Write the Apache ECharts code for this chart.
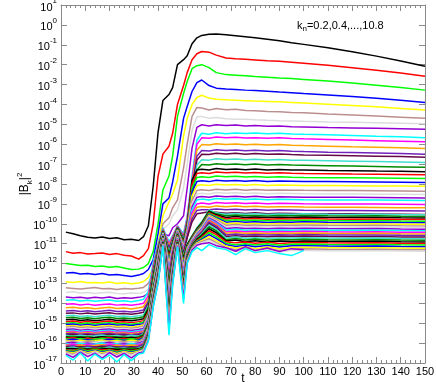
<!DOCTYPE html>
<html><head><meta charset="utf-8">
<script src="https://cdn.jsdelivr.net/npm/echarts@6/dist/echarts.min.js"></script>
<style>html,body{margin:0;padding:0;background:#fff}#c{width:436px;height:382px}</style>
</head><body><div id="c"></div>
<script>
// time samples
const t = [2,5,8,11,14,17,20,23,26,29,32, 34,36,38,40,42,44.5,46,48,50.5,52,54,56,58,61,64, 68,72,76,80,85,90,95,100,110,120,130,140,150];
// log10 |B_k|^2 for k = 0.2, 0.4, ..., 10.8
const k0_2 = [-10.42,-10.5,-10.6,-10.68,-10.72,-10.66,-10.74,-10.7,-10.8,-10.78,-10.84, -10.65,-10.1,-8.1,-5.4,-3.8,-3.5,-3.15,-2.0,-1.75,-1.55,-0.95,-0.65,-0.53,-0.47,-0.46, -0.5,-0.55,-0.6,-0.65,-0.72,-0.8,-0.9,-0.98,-1.15,-1.35,-1.57,-1.82,-2.08];
const k0_4 = [-11.4,-11.48,-11.45,-11.52,-11.5,-11.47,-11.55,-11.5,-11.58,-11.62,-11.78, -11.6,-11.25,-10.0,-7.6,-6.5,-6.1,-5.45,-4.0,-3.05,-2.4,-1.75,-1.45,-1.34,-1.37,-1.52, -1.66,-1.7,-1.73,-1.76,-1.8,-1.83,-1.88,-1.93,-2.03,-2.15,-2.28,-2.42,-2.58];
const k0_6 = [-12.0,-12.05,-12.1,-12.08,-12.15,-12.12,-12.18,-12.15,-12.22,-12.3,-12.28, -12.2,-12.0,-11.4,-10.0,-8.3,-7.6,-6.6,-4.6,-3.45,-2.85,-2.2,-2.05,-2.0,-2.15,-2.4, -2.5,-2.53,-2.56,-2.6,-2.63,-2.67,-2.7,-2.74,-2.82,-2.92,-3.03,-3.15,-3.28];
const k0_8 = [-12.48,-12.45,-12.52,-12.5,-12.55,-12.5,-12.58,-12.55,-12.6,-12.65,-12.58, -12.5,-12.3,-11.8,-10.5,-9.0,-8.7,-7.9,-6.6,-4.7,-4.1,-3.35,-2.9,-2.77,-3.05,-3.18, -3.22,-3.25,-3.28,-3.3,-3.34,-3.38,-3.41,-3.45,-3.52,-3.6,-3.69,-3.79,-3.9];
const k1_0 = [-12.92,-12.95,-12.9,-12.97,-12.95,-12.98,-12.93,-13.0,-12.97,-13.02,-12.98, -12.9,-12.7,-12.2,-11.0,-9.6,-8.9,-8.5,-7.8,-5.6,-4.7,-4.0,-3.65,-3.54,-3.68,-3.74, -3.77,-3.79,-3.81,-3.83,-3.85,-3.87,-3.9,-3.93,-3.99,-4.05,-4.12,-4.2,-4.28];
const k1_2 = [-13.22,-13.25,-13.28,-13.24,-13.2,-13.27,-13.25,-13.3,-13.26,-13.28,-13.24, -13.2,-13.0,-12.5,-11.4,-10.0,-9.7,-9.2,-8.8,-7.2,-6.0,-4.6,-4.15,-4.18,-4.28,-4.2, -4.27,-4.24,-4.3,-4.32,-4.35,-4.37,-4.4,-4.42,-4.48,-4.53,-4.58,-4.64,-4.7];
const k1_4 = [-13.45,-13.42,-13.48,-13.45,-13.5,-13.47,-13.44,-13.5,-13.52,-13.48,-13.5, -13.45,-13.3,-12.8,-11.7,-10.3,-10.0,-9.6,-9.3,-8.2,-7.0,-5.3,-4.62,-4.6,-4.7,-4.66, -4.72,-4.75,-4.74,-4.77,-4.8,-4.82,-4.83,-4.85,-4.88,-4.9,-4.92,-4.94,-4.97];
const k1_6 = [-13.68,-13.72,-13.7,-13.75,-13.7,-13.73,-13.68,-13.76,-13.72,-13.75,-13.7, -13.65,-13.5,-13.0,-11.9,-10.5,-10.6,-10.2,-10.0,-9.6,-8.2,-6.2,-5.15,-5.02,-5.08,-5.02, -5.06,-5.03,-5.08,-5.06,-5.1,-5.08,-5.12,-5.13,-5.16,-5.18,-5.2,-5.22,-5.25];
const k1_8 = [-13.85,-13.82,-13.88,-13.85,-13.9,-13.86,-13.83,-13.9,-13.87,-13.92,-13.86, -13.8,-13.4,-11.9,-11.0,-10.2,-10.9,-10.6,-10.1,-10.5,-9.6,-7.6,-5.8,-5.45,-5.5,-5.42, -5.47,-5.43,-5.46,-5.44,-5.47,-5.45,-5.48,-5.5,-5.53,-5.56,-5.6,-5.63,-5.67];
const k2_0 = [-14.05,-14.02,-14.08,-14.04,-14.1,-14.06,-14.03,-14.09,-14.06,-14.1,-14.05, -14.0,-13.6,-12.1,-11.1,-10.25,-11.0,-10.65,-10.12,-10.6,-9.7,-7.8,-6.0,-5.68,-5.7,-5.64, -5.68,-5.65,-5.69,-5.67,-5.7,-5.68,-5.71,-5.73,-5.76,-5.79,-5.82,-5.85,-5.88];
const k2_2 = [-14.22,-14.2,-14.25,-14.22,-14.27,-14.23,-14.2,-14.26,-14.24,-14.28,-14.22, -14.17,-13.75,-12.2,-11.15,-10.28,-11.1,-10.7,-10.14,-10.65,-9.8,-8.0,-6.3,-6.02,-6.04,-5.98, -6.02,-5.99,-6.03,-6.0,-6.04,-6.02,-6.05,-6.07,-6.1,-6.13,-6.15,-6.18,-6.21];
const k2_4 = [-14.38,-14.36,-14.41,-14.37,-14.42,-14.39,-14.35,-14.41,-14.4,-14.43,-14.38, -14.33,-13.9,-12.3,-11.2,-10.3,-11.2,-10.75,-10.16,-10.7,-9.9,-8.2,-6.6,-6.32,-6.34,-6.28, -6.32,-6.29,-6.33,-6.3,-6.34,-6.32,-6.35,-6.37,-6.4,-6.42,-6.44,-6.47,-6.5];
const k2_6 = [-14.5,-14.48,-14.53,-14.49,-14.54,-14.5,-14.47,-14.53,-14.51,-14.55,-14.5, -14.45,-14.0,-12.4,-11.25,-10.32,-11.3,-10.8,-10.18,-10.75,-9.95,-8.35,-6.8,-6.5,-6.52,-6.45, -6.49,-6.46,-6.5,-6.47,-6.51,-6.49,-6.52,-6.54,-6.56,-6.58,-6.6,-6.62,-6.65];
const k2_8 = [-14.63,-14.6,-14.66,-14.62,-14.67,-14.63,-14.6,-14.66,-14.64,-14.68,-14.63, -14.58,-14.1,-12.5,-11.3,-10.34,-11.4,-10.85,-10.2,-10.8,-10.0,-8.5,-7.05,-6.78,-6.8,-6.73, -6.77,-6.74,-6.78,-6.75,-6.79,-6.77,-6.8,-6.81,-6.83,-6.85,-6.87,-6.89,-6.92];
const k3_0 = [-14.73,-14.7,-14.76,-14.72,-14.77,-14.73,-14.7,-14.76,-14.74,-14.78,-14.73, -14.68,-14.2,-12.6,-11.35,-10.36,-11.5,-10.9,-10.22,-10.85,-10.05,-8.6,-7.3,-7.02,-7.05,-6.98, -7.02,-6.99,-7.03,-7.0,-7.04,-7.02,-7.05,-7.06,-7.08,-7.1,-7.12,-7.14,-7.16];
const k3_2 = [-14.83,-14.8,-14.86,-14.82,-14.87,-14.84,-14.8,-14.86,-14.84,-14.88,-14.83, -14.78,-14.3,-12.7,-11.4,-10.38,-11.6,-10.95,-10.24,-10.9,-10.1,-7.8,-7.3,-7.26,-7.3,-7.22, -7.27,-7.24,-7.28,-7.25,-7.29,-7.27,-7.3,-7.3,-7.32,-7.33,-7.35,-7.36,-7.38];
const k3_4 = [-14.92,-14.89,-14.95,-14.91,-14.96,-14.92,-14.89,-14.95,-14.93,-14.97,-14.92, -14.87,-14.4,-12.8,-11.45,-10.4,-11.7,-11.0,-10.26,-10.95,-10.15,-8.0,-7.47,-7.43,-7.47,-7.4, -7.44,-7.41,-7.45,-7.42,-7.46,-7.44,-7.46,-7.47,-7.48,-7.5,-7.51,-7.52,-7.54];
const k3_6 = [-15.0,-14.97,-15.03,-14.99,-15.04,-15.0,-14.97,-15.03,-15.01,-15.05,-15.0, -14.95,-14.5,-12.9,-11.5,-10.42,-11.8,-11.05,-10.28,-11.0,-10.2,-8.2,-7.67,-7.63,-7.67,-7.6, -7.64,-7.61,-7.65,-7.62,-7.66,-7.64,-7.66,-7.67,-7.68,-7.69,-7.7,-7.71,-7.72];
const k3_8 = [-15.07,-15.04,-15.1,-15.06,-15.11,-15.07,-15.04,-15.1,-15.08,-15.12,-15.07, -15.02,-14.55,-13.0,-11.55,-10.44,-11.9,-11.1,-10.3,-11.05,-10.25,-8.4,-7.88,-7.84,-7.88,-7.81, -7.85,-7.82,-7.86,-7.83,-7.87,-7.85,-7.86,-7.87,-7.88,-7.89,-7.9,-7.91,-7.92];
const k4_0 = [-15.14,-15.11,-15.17,-15.13,-15.18,-15.14,-15.11,-15.17,-15.15,-15.19,-15.14, -15.09,-14.6,-13.1,-11.6,-10.46,-12.0,-11.15,-10.32,-11.1,-10.3,-8.6,-8.08,-8.04,-8.08,-8.01, -8.05,-8.02,-8.06,-8.03,-8.07,-8.05,-8.06,-8.07,-8.08,-8.09,-8.1,-8.1,-8.11];
const k4_2 = [-15.2,-15.17,-15.23,-15.19,-15.24,-15.2,-15.17,-15.23,-15.21,-15.25,-15.2, -15.15,-14.65,-13.2,-11.65,-10.48,-12.1,-11.2,-10.34,-11.15,-10.35,-8.85,-8.33,-8.29,-8.33,-8.26, -8.3,-8.27,-8.31,-8.28,-8.32,-8.3,-8.31,-8.32,-8.33,-8.33,-8.34,-8.35,-8.36];
const k4_4 = [-15.26,-15.23,-15.29,-15.25,-15.3,-15.26,-15.23,-15.29,-15.27,-15.31,-15.26, -15.21,-14.7,-13.25,-11.7,-10.5,-12.2,-11.25,-10.36,-11.2,-10.4,-9.0,-8.5,-8.46,-8.5,-8.43, -8.47,-8.44,-8.48,-8.45,-8.49,-8.47,-8.48,-8.49,-8.5,-8.5,-8.51,-8.52,-8.53];
const k4_6 = [-15.32,-15.29,-15.35,-15.31,-15.36,-15.32,-15.29,-15.35,-15.33,-15.37,-15.32, -15.27,-14.75,-13.3,-11.75,-10.52,-12.3,-11.3,-10.38,-11.25,-10.45,-9.15,-8.67,-8.63,-8.67,-8.6, -8.64,-8.61,-8.65,-8.62,-8.66,-8.64,-8.65,-8.66,-8.67,-8.67,-8.68,-8.69,-8.7];
const k4_8 = [-15.38,-15.35,-15.41,-15.37,-15.42,-15.38,-15.35,-15.41,-15.39,-15.43,-15.38, -15.33,-14.8,-13.35,-11.8,-10.54,-12.4,-11.35,-10.4,-11.3,-10.5,-9.3,-8.8,-8.76,-8.8,-8.73, -8.77,-8.74,-8.78,-8.75,-8.79,-8.77,-8.78,-8.79,-8.8,-8.8,-8.81,-8.82,-8.83];
const k5_0 = [-15.43,-15.4,-15.46,-15.42,-15.47,-15.43,-15.4,-15.46,-15.44,-15.48,-15.43, -15.38,-14.85,-13.4,-11.85,-10.56,-12.5,-11.4,-10.42,-11.35,-10.55,-9.45,-9.0,-8.96,-9.0,-8.93, -8.97,-8.94,-8.98,-8.95,-8.99,-8.97,-8.98,-8.99,-9.0,-9.0,-9.01,-9.02,-9.03];
const k5_2 = [-15.48,-15.45,-15.51,-15.47,-15.52,-15.48,-15.45,-15.51,-15.49,-15.53,-15.48, -15.43,-14.9,-13.45,-11.9,-10.58,-12.6,-11.45,-10.44,-11.4,-10.6,-9.6,-9.17,-9.13,-9.17,-9.1, -9.14,-9.11,-9.15,-9.12,-9.16,-9.14,-9.15,-9.16,-9.17,-9.17,-9.18,-9.19,-9.2];
const k5_4 = [-15.53,-15.5,-15.56,-15.52,-15.57,-15.53,-15.5,-15.56,-15.54,-15.58,-15.53, -15.48,-14.95,-13.5,-11.95,-10.6,-12.7,-11.5,-10.46,-11.45,-10.65,-9.75,-9.33,-9.29,-9.3,-9.26, -9.3,-9.27,-9.31,-9.28,-9.32,-9.3,-9.31,-9.32,-9.33,-9.33,-9.34,-9.35,-9.36];
const k5_6 = [-15.58,-15.55,-15.61,-15.57,-15.62,-15.58,-15.55,-15.61,-15.59,-15.63,-15.58, -15.53,-15.0,-13.55,-12.0,-10.62,-12.8,-11.55,-10.48,-11.5,-10.7,-9.9,-9.5,-9.46,-9.4,-9.42, -9.47,-9.44,-9.48,-9.45,-9.49,-9.47,-9.48,-9.49,-9.5,-9.5,-9.51,-9.52,-9.53];
const k5_8 = [-15.61,-15.65,-15.6,-15.66,-15.63,-15.59,-15.65,-15.62,-15.67,-15.61,-15.66, -15.53,-14.9,-13.2,-12.0,-10.6,-12.9,-11.8,-10.5,-11.6,-11.0,-10.6,-10.2,-9.9,-9.3,-9.45, -9.52,-9.48,-9.52,-9.5,-9.53,-9.51,-9.52,-9.5,-9.52,-9.53,-9.52,-9.54,-9.55];
const k6_0 = [-15.68,-15.65,-15.71,-15.67,-15.72,-15.68,-15.65,-15.71,-15.69,-15.73,-15.68, -15.58,-14.98,-13.28,-12.04,-10.62,-13.0,-11.85,-10.52,-11.69,-11.04,-10.63,-10.24,-9.94,-9.35,-9.5, -9.6,-9.56,-9.6,-9.58,-9.61,-9.59,-9.6,-9.58,-9.6,-9.61,-9.6,-9.62,-9.63];
const k6_2 = [-15.7,-15.74,-15.69,-15.75,-15.72,-15.68,-15.74,-15.71,-15.76,-15.7,-15.75, -15.62,-15.02,-13.32,-12.08,-10.64,-13.1,-11.9,-10.55,-11.78,-11.08,-10.66,-10.27,-9.98,-9.39,-9.55, -9.68,-9.64,-9.68,-9.66,-9.69,-9.67,-9.68,-9.66,-9.68,-9.69,-9.68,-9.7,-9.71];
const k6_4 = [-15.76,-15.73,-15.79,-15.75,-15.8,-15.76,-15.73,-15.79,-15.77,-15.81,-15.76, -15.66,-15.06,-13.36,-12.12,-10.66,-13.2,-11.95,-10.57,-11.87,-11.12,-10.69,-10.31,-10.02,-9.44,-9.6, -9.76,-9.72,-9.76,-9.74,-9.77,-9.75,-9.76,-9.74,-9.76,-9.77,-9.76,-9.78,-9.79];
const k6_6 = [-15.78,-15.82,-15.77,-15.83,-15.8,-15.76,-15.82,-15.79,-15.84,-15.78,-15.83, -15.7,-15.1,-13.4,-12.16,-10.68,-13.3,-12.0,-10.6,-11.96,-11.16,-10.72,-10.34,-10.06,-9.48,-9.65, -9.84,-9.8,-9.84,-9.82,-9.85,-9.83,-9.84,-9.82,-9.84,-9.85,-9.84,-9.86,-9.87];
const k6_8 = [-15.84,-15.81,-15.87,-15.83,-15.88,-15.84,-15.81,-15.87,-15.85,-15.89,-15.84, -15.74,-15.14,-13.44,-12.2,-10.7,-13.4,-12.05,-10.62,-12.05,-11.2,-10.75,-10.38,-10.1,-9.53,-9.7, -9.92,-9.88,-9.92,-9.9,-9.93,-9.91,-9.92,-9.9,-9.92,-9.93,-9.92,-9.94,-9.95];
const k7_0 = [-15.86,-15.9,-15.85,-15.91,-15.88,-15.84,-15.9,-15.87,-15.92,-15.86,-15.91, -15.78,-15.18,-13.48,-12.24,-10.72,-13.5,-12.1,-10.65,-12.14,-11.24,-10.78,-10.41,-10.14,-9.57,-9.75, -10.0,-9.96,-10.0,-9.98,-10.01,-9.99,-10.0,-9.98,-10.0,-10.01,-10.0,-10.02,-10.03];
const k7_2 = [-15.92,-15.89,-15.95,-15.91,-15.96,-15.92,-15.89,-15.95,-15.93,-15.97,-15.92, -15.82,-15.22,-13.52,-12.28,-10.74,-13.6,-12.15,-10.67,-12.23,-11.28,-10.81,-10.45,-10.18,-9.62,-9.8, -10.08,-10.04,-10.08,-10.06,-10.09,-10.07,-10.08,-10.06,-10.08,-10.09,-10.08,-10.1,-10.11];
const k7_4 = [-15.94,-15.98,-15.93,-15.99,-15.96,-15.92,-15.98,-15.95,-16.0,-15.94,-15.99, -15.86,-15.26,-13.56,-12.32,-10.76,-13.7,-12.2,-10.7,-12.32,-11.32,-10.84,-10.48,-10.22,-9.66,-9.85, -10.16,-10.12,-10.16,-10.14,-10.17,-10.15,-10.16,-10.14,-10.16,-10.17,-10.16,-10.18,-10.19];
const k7_6 = [-16.0,-15.97,-16.03,-15.99,-16.04,-16.0,-15.97,-16.03,-16.01,-16.05,-16.0, -15.9,-15.3,-13.6,-12.36,-10.78,-13.8,-12.25,-10.72,-12.41,-11.36,-10.87,-10.52,-10.26,-9.71,-9.9, -10.24,-10.2,-10.24,-10.22,-10.25,-10.23,-10.24,-10.22,-10.24,-10.25,-10.24,-10.26,-10.27];
const k7_8 = [-16.02,-16.06,-16.01,-16.07,-16.04,-16.0,-16.06,-16.03,-16.08,-16.02,-16.07, -15.94,-15.34,-13.64,-12.4,-10.8,-13.9,-12.3,-10.75,-12.5,-11.4,-10.9,-10.55,-10.3,-9.75,-9.95, -10.32,-10.28,-10.32,-10.3,-10.33,-10.31,-10.32,-10.3,-10.32,-10.33,-10.32,-10.34,-10.35];
const k8_0 = [-16.08,-16.05,-16.11,-16.07,-16.12,-16.08,-16.05,-16.11,-16.09,-16.13,-16.08, -15.98,-15.38,-13.68,-12.44,-10.82,-14.0,-12.35,-10.77,-12.59,-11.44,-10.93,-10.59,-10.34,-9.8,-10.0, -10.4,-10.36,-10.4,-10.38,-10.41,-10.39,-10.4,-10.38,-10.4,-10.41,-10.4,-10.42,-10.43];
const k8_2 = [-16.1,-16.14,-16.09,-16.15,-16.12,-16.08,-16.14,-16.11,-16.16,-16.1,-16.15, -16.02,-15.42,-13.72,-12.48,-10.84,-14.1,-12.4,-10.8,-12.68,-11.48,-10.96,-10.62,-10.38,-9.84,-10.05, -10.48,-10.44,-10.48,-10.46,-10.49,-10.47,-10.48,-10.46,-10.48,-10.49,-10.48,-10.5,-10.51];
const k8_4 = [-16.16,-16.13,-16.19,-16.15,-16.2,-16.16,-16.13,-16.19,-16.17,-16.21,-16.16, -16.06,-15.46,-13.76,-12.52,-10.86,-14.2,-12.45,-10.82,-12.77,-11.52,-10.99,-10.66,-10.42,-9.9,-10.12, -10.56,-10.52,-10.56,-10.54,-10.57,-10.55,-10.56,-10.54,-10.56,-10.57,-10.56,-10.58,-10.59];
const k8_6 = [-16.18,-16.22,-16.17,-16.23,-16.2,-16.16,-16.22,-16.19,-16.24,-16.18,-16.23, -16.1,-15.5,-13.8,-12.56,-10.88,-14.3,-12.5,-10.85,-12.86,-11.56,-11.02,-10.69,-10.46,-9.98,-10.2, -10.64,-10.6,-10.64,-10.62,-10.65,-10.63,-10.64,-10.62,-10.64,-10.65,-10.64,-10.66,-10.67];
const k8_8 = [-16.24,-16.21,-16.27,-16.23,-16.28,-16.24,-16.21,-16.27,-16.25,-16.29,-16.24, -16.14,-15.54,-13.84,-12.6,-10.9,-14.4,-12.55,-10.87,-12.95,-11.6,-11.05,-10.73,-10.5,-10.06,-10.28, -10.72,-10.66,-10.73,-10.7,-10.74,-10.71,-10.72,-10.7,-10.72,-10.73,-10.72,-10.74,-10.75];
const k9_0 = [-16.25,-16.29,-16.24,-16.3,-16.27,-16.23,-16.29,-16.26,-16.31,-16.25,-16.3, -16.17,-15.57,-13.87,-12.64,-10.92,-14.5,-12.6,-10.9,-13.04,-11.64,-11.08,-10.76,-10.55,-10.15,-10.36, -10.8,-10.74,-10.82,-10.77,-10.83,-10.79,-10.8,-10.78,-10.8,-10.81,-10.8,-10.82,-10.83];
const k9_2 = [-16.3,-16.27,-16.33,-16.29,-16.34,-16.3,-16.27,-16.33,-16.31,-16.35,-16.3, -16.2,-15.6,-13.9,-12.68,-10.94,-14.6,-12.65,-10.92,-13.13,-11.68,-11.11,-10.8,-10.6,-10.25,-10.45, -10.86,-10.82,-10.9,-10.85,-10.92,-10.87,-10.89,-10.86,-10.88,-10.89,-10.88,-10.9,-10.91];
const k9_4 = [-16.33,-16.39,-16.29,-16.37,-16.3,-16.36,-16.31,-16.4,-16.33,-16.38,-16.32, -16.23,-15.63,-13.93,-12.72,-10.96,-14.7,-12.7,-10.95,-13.22,-11.72,-11.14,-10.84,-10.66,-10.35,-10.55, -10.9,-10.96,-10.92,-10.98,-10.93,-10.99,-10.95,-10.94,-10.96,-10.97,-10.96,-10.98,-10.99];
const k9_6 = [-16.36,-16.42,-16.32,-16.4,-16.33,-16.41,-16.34,-16.43,-16.35,-16.41,-16.35, -16.26,-15.66,-13.96,-12.76,-10.98,-14.8,-12.75,-10.97,-13.31,-11.76,-11.17,-10.88,-10.72,-10.45,-10.65, -10.98,-11.05,-11.0,-11.07,-11.01,-11.08,-11.03,-11.02,-11.04,-11.05,-11.04,-11.06,-11.07];
const k9_8 = [-16.4,-16.47,-16.35,-16.45,-16.37,-16.46,-16.38,-16.48,-16.39,-16.46,-16.38, -16.3,-15.7,-14.0,-12.8,-11.0,-14.9,-12.8,-11.0,-13.4,-11.8,-11.2,-10.92,-10.78,-10.55,-10.75, -11.05,-11.14,-11.08,-11.16,-11.09,-11.17,-11.11,-11.1,-11.12,-11.13,-11.12,-11.14,-11.15];
const k10_0 = [-16.43,-16.5,-16.38,-16.48,-16.4,-16.5,-16.41,-16.52,-16.42,-16.5,-16.41, -16.33,-15.73,-14.03,-12.84,-11.02,-15.0,-12.85,-11.02,-13.49,-11.84,-11.23,-10.96,-10.84,-10.65,-10.85, -11.12,-11.22,-11.15,-11.25,-11.17,-11.26,-11.19,-11.18,-11.2,-11.21,-11.2,-11.22,-11.23];
const k10_2 = [-16.47,-16.56,-16.41,-16.53,-16.44,-16.55,-16.45,-16.58,-16.46,-16.55,-16.45, -16.37,-15.77,-14.07,-12.88,-11.04,-15.1,-12.9,-11.05,-13.58,-11.88,-11.26,-11.0,-10.9,-10.75,-10.95, -11.2,-11.3,-11.22,-11.33,-11.25,-11.34,-11.27,-11.26,-11.28,-11.29,-11.28,-11.3,-11.31];
const k10_4 = [-16.5,-16.62,-16.42,-16.6,-16.45,-16.6,-16.47,-16.65,-16.48,-16.62,-16.46, -16.4,-15.8,-14.1,-12.92,-11.06,-15.2,-12.95,-11.07,-13.67,-11.92,-11.29,-11.04,-10.95,-10.85,-11.02, -11.26,-11.4,-11.28,-11.42,-11.3,-11.42,-11.33,-11.34,-11.35,-11.36,-11.36,-11.37,-11.38];
const k10_6 = [-16.55,-16.72,-16.45,-16.68,-16.5,-16.75,-16.48,-16.7,-16.52,-16.74,-16.5, -16.45,-15.85,-14.15,-12.96,-11.08,-15.3,-13.0,-11.1,-13.76,-11.96,-11.32,-11.08,-11.0,-10.95,-11.1, -11.2,-11.38,-11.15,-11.35,-11.22,-11.4,-11.25,-11.3,null,null,null,null,null];
const k10_8 = [-16.62,-16.85,-16.5,-16.9,-16.55,-16.82,-16.6,-16.95,-16.58,-16.88,-16.55, -16.5,-15.9,-14.2,-13.0,-11.1,-15.6,-13.1,-11.15,-14.0,-12.0,-11.4,-11.2,-11.35,-11.05,-11.2, -11.3,-11.55,-11.25,-11.45,-11.35,-11.5,-11.6,-11.35,null,null,null,null,null];

const kValues = ['0.2','0.4','0.6','0.8','1.0','1.2','1.4','1.6','1.8','2.0','2.2','2.4','2.6','2.8','3.0','3.2','3.4','3.6','3.8','4.0','4.2','4.4','4.6','4.8','5.0','5.2','5.4','5.6','5.8','6.0','6.2','6.4','6.6','6.8','7.0','7.2','7.4','7.6','7.8','8.0','8.2','8.4','8.6','8.8','9.0','9.2','9.4','9.6','9.8','10.0','10.2','10.4','10.6','10.8'];
const allSeries = [k0_2,k0_4,k0_6,k0_8,k1_0,k1_2,k1_4,k1_6,k1_8,k2_0,k2_2,k2_4,k2_6,k2_8,k3_0,k3_2,k3_4,k3_6,k3_8,k4_0,k4_2,k4_4,k4_6,k4_8,k5_0,k5_2,k5_4,k5_6,k5_8,k6_0,k6_2,k6_4,k6_6,k6_8,k7_0,k7_2,k7_4,k7_6,k7_8,k8_0,k8_2,k8_4,k8_6,k8_8,k9_0,k9_2,k9_4,k9_6,k9_8,k10_0,k10_2,k10_4,k10_6,k10_8];
const colors = ['#000000','#ff0000','#00ff00','#0000ff','#ffff00','#bc8f8f','#dcdcdc','#9400d3','#00ffff','#ff00ff','#ffa500','#7221bc','#670748','#40e0d0','#008b00'];

const FONT = '"Liberation Sans", Arial, Helvetica, sans-serif';
const GRAY = '#8a8a8a';
const chart = echarts.init(document.getElementById('c'), null, {renderer: 'canvas'});

const series = allSeries.map((arr, i) => ({
  type: 'line', name: 'k=' + kValues[i], symbol: 'none', showSymbol: false,
  animation: false, silent: true,
  lineStyle: {width: 1.5, color: colors[i % colors.length]},
  itemStyle: {color: colors[i % colors.length]},
  data: arr.map((e, j) => e == null ? null : [t[j], Math.pow(10, e)]).filter(d => d)
}));

const xCommon = {
  type: 'value', min: 0, max: 150, interval: 10,
  axisLine: {show: true, onZero: false, lineStyle: {color: GRAY, width: 1}},
  axisTick: {show: true, inside: true, length: 6, lineStyle: {color: GRAY}},
  minorTick: {show: true, splitNumber: 5, length: 3, lineStyle: {color: GRAY}},
  splitLine: {show: false}
};
const yCommon = {
  type: 'log', logBase: 10, min: 1e-17, max: 10, interval: 1,
  axisLine: {show: true, onZero: false, lineStyle: {color: GRAY, width: 1}},
  axisTick: {show: true, inside: true, length: 6, lineStyle: {color: GRAY}},
  minorTick: {show: false},
  splitLine: {show: false}
};

chart.setOption({
  animation: false,
  backgroundColor: '#ffffff',
  textStyle: {fontFamily: FONT},
  grid: {left: 61, top: 5, width: 364, height: 358, containLabel: false, outerBoundsMode: 'none'},
  xAxis: [
    Object.assign({}, xCommon, {
      position: 'bottom',
      axisLabel: {show: true, color: '#000', fontSize: 11, margin: 3, fontFamily: FONT},
      name: 't', nameLocation: 'middle', nameGap: 10, nameMoveOverlap: false,
      nameTextStyle: {color: '#000', fontSize: 12, fontFamily: FONT, verticalAlign: 'top'}
    }),
    Object.assign({}, xCommon, {position: 'top', axisLabel: {show: false}})
  ],
  yAxis: [
    Object.assign({}, yCommon, {
      position: 'left',
      axisLabel: {
        show: true, margin: 4, color: '#000', fontFamily: FONT,
        formatter: v => '{b|10}{s|' + Math.round(Math.log10(v)) + '}',
        rich: {
          b: {fontSize: 11, lineHeight: 16, verticalAlign: 'bottom', color: '#000', fontFamily: FONT},
          s: {fontSize: 8, lineHeight: 8, verticalAlign: 'top', color: '#000', fontFamily: FONT}
        }
      },
      name: '{a||B}{k|k}{a||}{p|2}', nameLocation: 'middle', nameGap: 27, nameRotate: 90,
      nameMoveOverlap: false,
      nameTextStyle: {
        color: '#000', fontFamily: FONT,
        rich: {
          a: {fontSize: 12, lineHeight: 18, verticalAlign: 'middle', color: '#000', fontFamily: FONT},
          k: {fontSize: 8, lineHeight: 8, verticalAlign: 'bottom', color: '#000', fontFamily: FONT},
          p: {fontSize: 8, lineHeight: 8, verticalAlign: 'top', color: '#000', fontFamily: FONT}
        }
      }
    }),
    Object.assign({}, yCommon, {position: 'right', axisLabel: {show: false}})
  ],
  graphic: [{
    type: 'text', left: 297, top: 20, silent: true,
    style: {
      text: '{a|k}{b|n}{a|=0.2,0.4,...,10.8}',
      rich: {
        a: {fontSize: 11, lineHeight: 14, verticalAlign: 'middle', fill: '#000', fontFamily: FONT},
        b: {fontSize: 8, lineHeight: 8, verticalAlign: 'bottom', fill: '#000', fontFamily: FONT}
      }
    }
  }],
  series: series
});
</script>
</body></html>
